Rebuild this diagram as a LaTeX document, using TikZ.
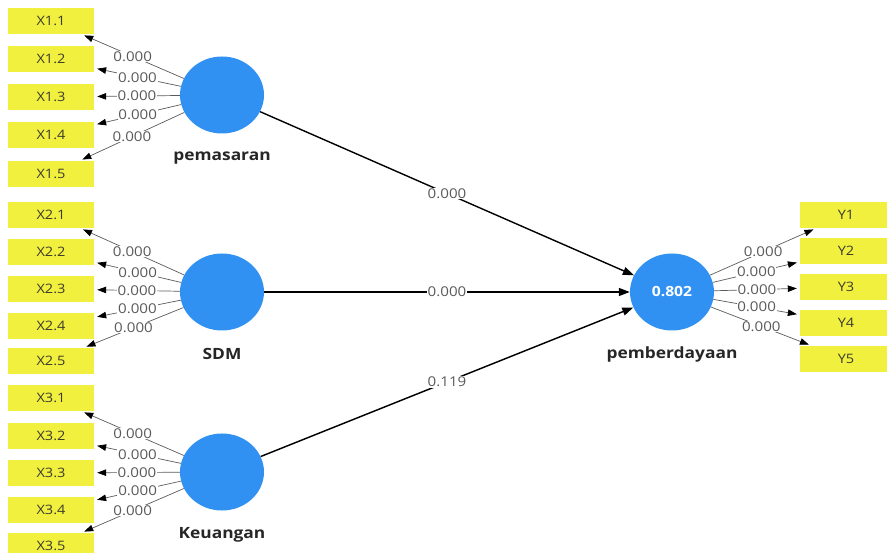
\documentclass[tikz,border=0pt]{standalone}
\usepackage{fontspec}
\setmainfont{Open Sans}[FakeStretch=1.12]
\usetikzlibrary{arrows.meta,shapes.geometric}
\definecolor{boxyellow}{RGB}{242,240,62}
\definecolor{lvblue}{RGB}{48,145,242}
\definecolor{numgray}{RGB}{90,90,90}
\definecolor{indtext}{RGB}{60,60,45}
\definecolor{loadgray}{RGB}{90,90,90}
\tikzset{
  ind/.style={fill=boxyellow, minimum width=86pt, minimum height=26pt, inner sep=0pt,
    text=indtext, font=\fontsize{13}{15}\selectfont},
  lv/.style={ellipse, fill=lvblue, minimum width=84pt, minimum height=77pt, inner sep=0pt},
  lvname/.style={font=\fontsize{15.5}{18}\selectfont\bfseries, text=black!85},
  lbl/.style={fill=white, inner sep=0.8pt, text=numgray, font=\fontsize{13.5}{15}\selectfont},
  load/.style={draw=loadgray, line width=0.7pt, -{Triangle[length=9pt,width=6.5pt,color=black]}, shorten >=3pt},
  spath/.style={draw=black, line width=1.4pt, -{Triangle[length=11pt,width=8pt]}},
}
\begin{document}
\begin{tikzpicture}[x=1pt,y=-1pt]
\useasboundingbox (0,0) rectangle (887,553);
\clip (0,0) rectangle (887,553);
% indicators X1
\node[ind] (x11) at (51,21) {X1.1};
\node[ind] (x12) at (51,59) {X1.2};
\node[ind] (x13) at (51,97) {X1.3};
\node[ind] (x14) at (51,135) {X1.4};
\node[ind] (x15) at (51,174) {X1.5};
% indicators X2
\node[ind] (x21) at (51,215) {X2.1};
\node[ind] (x22) at (51,252) {X2.2};
\node[ind] (x23) at (51,289) {X2.3};
\node[ind] (x24) at (51,326) {X2.4};
\node[ind] (x25) at (51,361) {X2.5};
% indicators X3
\node[ind] (x31) at (51,398) {X3.1};
\node[ind] (x32) at (51,436) {X3.2};
\node[ind] (x33) at (51,473) {X3.3};
\node[ind] (x34) at (51,510) {X3.4};
\node[ind] (x35) at (51,546) {X3.5};
% indicators Y
\node[ind, minimum width=92pt] (y1) at (846,215) {Y1};
\node[ind, minimum width=92pt] (y2) at (846,251) {Y2};
\node[ind, minimum width=92pt] (y3) at (846,287) {Y3};
\node[ind, minimum width=92pt] (y4) at (846,323) {Y4};
\node[ind, minimum width=92pt] (y5) at (846,359) {Y5};
% latent variables
\node[lv] (pem) at (222,95) {};
\node[lv] (sdm) at (222,292) {};
\node[lv] (keu) at (222,472) {};
\node[lv, text=white, font=\fontsize{14}{16}\selectfont\bfseries] (pmb) at (672,292) {0.802};
\node[lvname] (pemL) at (222,158) {pemasaran};
\node[lvname] (sdmL) at (222,354) {SDM};
\node[lvname] (keuL) at (222,535) {Keuangan};
\node[lvname] (pmbL) at (672,354) {pemberdayaan};
% loadings
\foreach \s/\g in {pem/1, sdm/2, keu/3}{
  \foreach \i in {1,...,5}{
    \draw[load] (\s) -- node[lbl]{0.000} (x\g\i);
  }
}
\foreach \i in {1,...,5}{
  \draw[load] (pmb) -- node[lbl]{0.000} (y\i);
}
% structural paths
\draw[spath] (pem) -- node[lbl]{0.000} (pmb);
\draw[spath] (sdm) -- node[lbl]{0.000} (pmb);
\draw[spath] (keu) -- node[lbl]{0.119} (pmb);
\end{tikzpicture}
\end{document}
